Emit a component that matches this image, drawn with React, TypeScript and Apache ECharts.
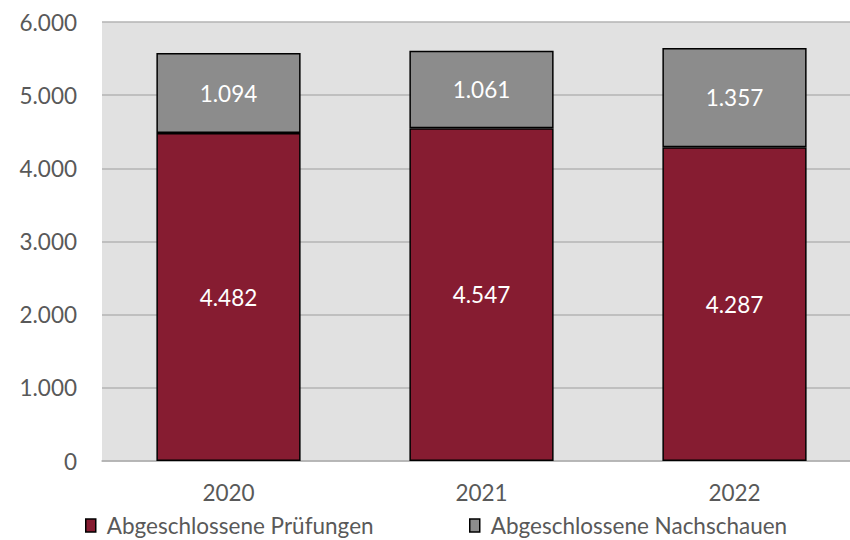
import React, { useEffect, useRef } from "react";
import * as echarts from "echarts";

const categories = ["2020", "2021", "2022"];
const pruefungen = [4482, 4547, 4287];
const nachschauen = [1094, 1061, 1357];
const seriesNames = ["Abgeschlossene Prüfungen", "Abgeschlossene Nachschauen"];

const fmt = (v: number) => {
  const s = String(Math.round(v));
  return s.replace(/\B(?=(\d{3})+(?!\d))/g, ".");
};

const FONT = "Lato, 'Open Sans', sans-serif";
const FS = 22.5;

export default function App() {
  const ref = useRef<HTMLDivElement>(null);
  useEffect(() => {
    if (!ref.current) return;
    const chart = echarts.init(ref.current, undefined, { renderer: "svg" });
    const legendBase = {
      top: 509,
      itemWidth: 10,
      itemHeight: 13,
      itemGap: 0,
      icon: "rect",
      textStyle: { fontFamily: FONT, fontSize: FS, color: "#595959", padding: [0, 0, 0, 6] },
      itemStyle: { borderColor: "#000", borderWidth: 1.5 },
    };
    chart.setOption({
      animation: false,
      backgroundColor: "#ffffff",
      grid: {
        left: 102,
        right: 0,
        top: 22,
        bottom: 79,
        show: true,
        backgroundColor: "#e1e1e1",
        borderWidth: 0,
      },
      legend: [
        { ...legendBase, data: [seriesNames[0]], left: 80 },
        { ...legendBase, data: [seriesNames[1]], left: 464 },
      ],
      xAxis: {
        type: "category",
        data: categories,
        axisLine: { show: true, lineStyle: { color: "#b3b3b3", width: 1.5 } },
        axisTick: { show: false },
        axisLabel: { fontFamily: FONT, fontSize: FS, color: "#595959", margin: 20 },
      },
      yAxis: {
        type: "value",
        min: 0,
        max: 6000,
        interval: 1000,
        axisLine: { show: false },
        axisTick: { show: false },
        splitLine: { lineStyle: { color: "#b3b3b3", width: 1.5 } },
        axisLabel: {
          fontFamily: FONT,
          fontSize: FS,
          color: "#595959",
          margin: 25,
          formatter: (v: number) => fmt(v),
        },
      },
      series: [
        {
          name: seriesNames[0],
          type: "bar",
          stack: "total",
          data: pruefungen,
          barWidth: "57%",
          itemStyle: { color: "#861c31", borderColor: "#000", borderWidth: 1.5 },
          label: {
            show: true,
            position: "inside",
            fontFamily: FONT,
            fontSize: FS,
            color: "#ffffff",
            formatter: (p: any) => fmt(p.value),
          },
        },
        {
          name: seriesNames[1],
          type: "bar",
          stack: "total",
          data: nachschauen,
          barWidth: "57%",
          itemStyle: { color: "#8c8c8c", borderColor: "#000", borderWidth: 1.5 },
          label: {
            show: true,
            position: "inside",
            fontFamily: FONT,
            fontSize: FS,
            color: "#ffffff",
            formatter: (p: any) => fmt(p.value),
          },
        },
      ],
    });
    return () => chart.dispose();
  }, []);
  return (
    <div style={{ position: "absolute", left: 0, top: 0, width: 850, height: 540, overflow: "hidden" }}>
      <div ref={ref} style={{ width: 861, height: 540 }} />
    </div>
  );
}
